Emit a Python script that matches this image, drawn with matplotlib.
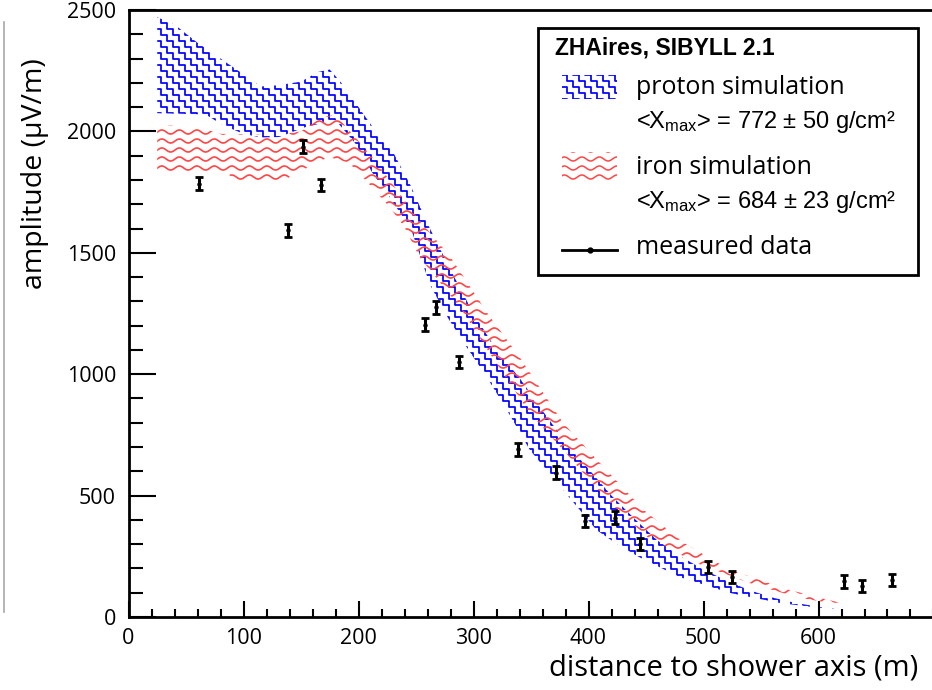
import numpy as np
import matplotlib
matplotlib.use("Agg")
import matplotlib.pyplot as plt
from matplotlib.collections import LineCollection
from matplotlib.patches import Rectangle
from matplotlib.lines import Line2D
from matplotlib.transforms import Affine2D
from matplotlib.ticker import MultipleLocator, FixedLocator

# ---------------- data ----------------
data_x = [61, 139, 152, 167, 258, 267, 287, 339, 372, 397, 423, 445, 504, 525, 622, 638, 664]
data_y = [1785, 1592, 1937, 1779, 1203, 1275, 1050, 690, 595, 395, 408, 301, 206, 165, 148, 128, 152]
data_err = [27, 25, 27, 25, 27, 27, 25, 25, 27, 25, 27, 25, 25, 25, 27, 25, 25]

proton_up_x = [25, 40, 60, 80, 100, 115, 130, 150, 165, 175, 185, 200, 215, 230, 245, 260, 280,
               300, 320, 340, 360, 380, 400, 420, 440, 460, 480, 500, 520, 540, 560, 580, 600, 622]
proton_up_y = [2470, 2440, 2365, 2300, 2235, 2185, 2190, 2205, 2245, 2255, 2200, 2100, 2000, 1915,
               1780, 1620, 1430, 1250, 1100, 985, 850, 720, 610, 500, 405, 315, 250, 195, 150, 110,
               80, 58, 42, 29]
proton_lo_x = [25, 67, 82, 100, 115, 131, 154, 180, 197, 212, 227, 246, 262, 278, 294, 312, 329,
               349, 378, 407, 425, 444, 479, 523, 566, 595, 622]
proton_lo_y = [2075, 2070, 2026, 1990, 1975, 1977, 2018, 2047, 1952, 1830, 1730, 1594, 1370, 1230,
               1112, 985, 853, 688, 523, 358, 300, 247, 165, 99, 58, 41, 29]

iron_up_x = [25, 60, 80, 130, 150, 168, 180, 197, 214, 240, 255, 280, 312, 340, 378, 410, 448,
             483, 523, 575, 609, 627]
iron_up_y = [2026, 2020, 1990, 1985, 2000, 2059, 2068, 1977, 1882, 1717, 1623, 1483, 1252, 1071,
             799, 634, 441, 305, 194, 111, 70, 49]
iron_lo_x = [25, 85, 95, 135, 145, 157, 174, 192, 206, 227, 240, 253, 288, 318, 349, 378, 416,
             451, 494, 540, 581, 609, 627]
iron_lo_y = [1829, 1829, 1795, 1795, 1829, 1853, 1895, 1870, 1800, 1689, 1606, 1483, 1277, 1058,
             840, 688, 482, 330, 222, 140, 82, 58, 45]

x_ticks = [0, 100, 200, 300, 400, 500, 600]
y_ticks = [0, 500, 1000, 1500, 2000, 2500]

legend_title = "ZHAires, SIBYLL 2.1"
legend_proton = "proton simulation"
legend_proton_x = r"<X$_{\mathrm{max}}$> = 772 ± 50 g/cm²"
legend_iron = "iron simulation"
legend_iron_x = r"<X$_{\mathrm{max}}$> = 684 ± 23 g/cm²"
legend_data = "measured data"
xlabel = "distance to shower axis (m)"
ylabel = "amplitude (µV/m)"

# ---------------- style ----------------
plt.rcParams["font.family"] = ["Open Sans", "DejaVu Sans"]
plt.rcParams["mathtext.fontset"] = "custom"
plt.rcParams["mathtext.rm"] = "Liberation Sans"
plt.rcParams["mathtext.it"] = "Liberation Sans:italic"
plt.rcParams["mathtext.bf"] = "Liberation Sans:bold"

W, H = 932, 690
BLUE = "#0000ff"
RED = "#ff4545"

fig = plt.figure(figsize=(W / 100, H / 100), dpi=100)
pix = Affine2D().scale(1.0 / W, 1.0 / H) + fig.transFigure

ax_left, ax_right, ax_top, ax_bot = 128.5, 933.5, 10, 617
ax = fig.add_axes([ax_left / W, (H - ax_bot) / H, (ax_right - ax_left) / W, (ax_bot - ax_top) / H])
ax.set_xlim(0, 700)
ax.set_ylim(0, 2500)


def stairs(x0, x1, y0, y1, step=6.0, gap=12.0):
    lines = []
    ys = np.ceil(y1) + step + 0.5
    c_start = np.floor((x0 + y0) / gap) * gap - 2 * gap
    for c in np.arange(c_start, x1 + ys + gap, gap):
        x, y = c - ys, ys
        pts = []
        n = int((ys - y0) / step) + 4
        for _ in range(n):
            pts.append((x, y))
            pts.append((x + step, y))
            x += step
            y -= step
        lines.append(pts)
    return lines


def waves(x0, x1, y0, y1, period=17.5, amp=2.0, gap=9.0):
    xs = np.arange(x0 - period, x1 + period, 0.5)
    rows = np.arange(np.floor(y0 / gap) * gap - gap, y1 + gap, gap)
    return [np.column_stack([xs, r + amp * np.sin(2 * np.pi * xs / period)]) for r in rows]


def band(ux, uy, lx, ly, kind, color):
    px = list(ux) + list(lx)[::-1]
    py = list(uy) + list(ly)[::-1]
    poly = ax.fill(px, py, facecolor="none", edgecolor="none")[0]
    disp = ax.transData.transform(np.column_stack([px, py]))
    x0, y0 = disp.min(axis=0)
    x1, y1 = disp.max(axis=0)
    if kind == "stairs":
        segs = stairs(x0, x1, y0, y1)
        lw = 1.25
    else:
        segs = waves(x0, x1, y0, y1)
        lw = 1.2
    lc = LineCollection(segs, colors=color, linewidths=lw, transform=pix)
    ax.add_collection(lc, autolim=False)
    lc.set_clip_path(poly)
    return lc


band(proton_up_x, proton_up_y, proton_lo_x, proton_lo_y, "stairs", BLUE)
band(iron_up_x, iron_up_y, iron_lo_x, iron_lo_y, "waves", RED)

ax.errorbar(data_x, data_y, yerr=data_err, fmt="o", ms=2.2, color="black", ecolor="black",
            elinewidth=2.2, capsize=3.0, capthick=2.0, zorder=5)

ax.set_xlim(0, 700)
ax.set_ylim(0, 2500)

# axes styling
for s in ["left", "bottom", "top", "right"]:
    ax.spines[s].set_linewidth(2.0)
ax.xaxis.set_major_locator(FixedLocator(x_ticks))
ax.xaxis.set_minor_locator(MultipleLocator(20))
ax.yaxis.set_major_locator(FixedLocator(y_ticks))
ax.yaxis.set_minor_locator(MultipleLocator(100))
ax.tick_params(axis="x", which="major", direction="in", length=11.5, width=1.5,
               labelsize=15.5, pad=8, top=False)
ax.tick_params(axis="x", which="minor", direction="in", length=5.8, width=1.5, top=False)
ax.tick_params(axis="y", which="major", direction="in", length=19.5, width=1.5,
               labelsize=15.5, pad=9, right=False)
ax.tick_params(axis="y", which="minor", direction="in", length=10, width=1.5, right=False)

# axis titles
fig.text(918 / W, 1 - 668 / H, xlabel, ha="right", va="center", fontsize=21)
fig.text(35 / W, 1 - 58 / H, ylabel, ha="center", va="top", rotation=90, fontsize=20.5)

# cropping artifact line at far left
fig.add_artist(Line2D([4 / W, 4 / W], [1 - 22 / H, 1 - 612 / H], color="#a8a8a8", lw=1.2))

# ---------------- legend ----------------
lb = Rectangle((538, H - 275), 380, 247, transform=pix, facecolor="white",
               edgecolor="black", linewidth=2.0, zorder=3)
fig.add_artist(lb)


def swatch(x0, ytop, w, h, kind, color):
    r = Rectangle((x0, H - ytop - h), w, h, transform=pix, fill=False, edgecolor="none", zorder=4)
    fig.add_artist(r)
    if kind == "stairs":
        segs = stairs(x0, x0 + w, H - ytop - h, H - ytop)
        lw = 1.25
    else:
        segs = waves(x0, x0 + w, H - ytop - h, H - ytop)
        lw = 1.1
    lc = LineCollection(segs, colors=color, linewidths=lw, transform=pix, zorder=4)
    fig.add_artist(lc)
    lc.set_clip_path(r)


swatch(562, 75, 55, 24, "stairs", BLUE)
swatch(562, 152, 55, 28, "waves", RED)

fig.add_artist(Line2D([562 / W, 617 / W], [1 - 250 / H, 1 - 250 / H], color="black", lw=2.0,
                      zorder=4))
fig.add_artist(Line2D([589.5 / W], [1 - 250 / H], color="black", marker="o", markersize=3.5,
                      zorder=5))


def ftext(x, y, s, **kw):
    fig.text(x / W, 1 - y / H, s, va="center", ha="left", zorder=6, **kw)


ftext(555, 48, legend_title, fontsize=16.5, fontweight="bold", family="Liberation Sans")
ftext(636, 87, legend_proton, fontsize=18)
ftext(636, 122, legend_proton_x, fontsize=17, family="Liberation Sans")
ftext(636, 167, legend_iron, fontsize=18)
ftext(636, 202, legend_iron_x, fontsize=17, family="Liberation Sans")
ftext(636, 248, legend_data, fontsize=18)

fig.savefig("out.png", dpi=100)
